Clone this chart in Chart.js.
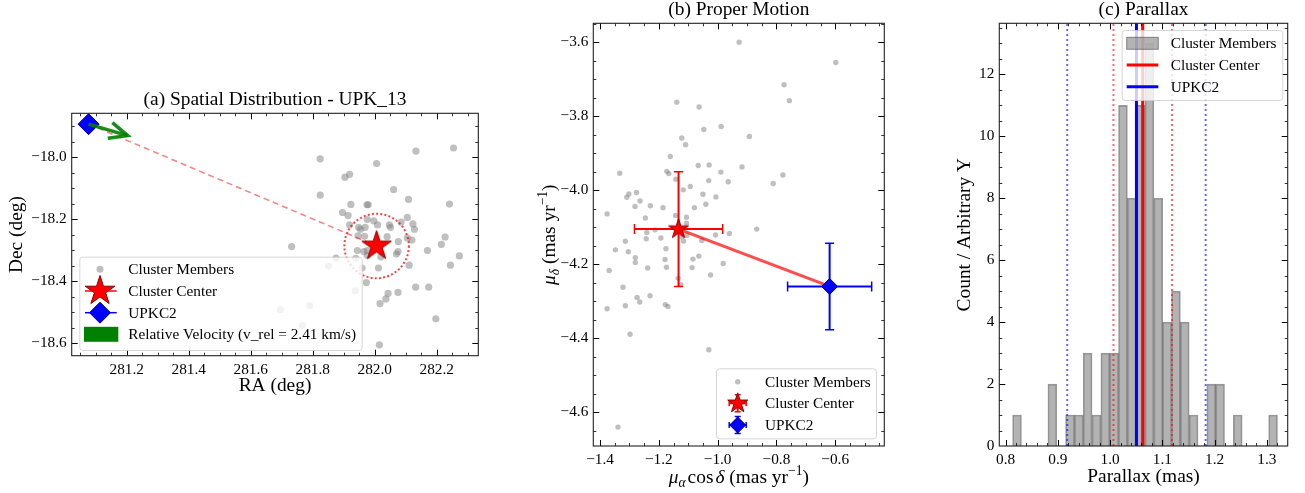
<!DOCTYPE html>
<html>
<head>
<meta charset="utf-8">
<script src="https://cdn.jsdelivr.net/npm/chart.js@4.4.1/dist/chart.umd.min.js"></script>
<style>
  html, body { margin: 0; padding: 0; background: #fff; }
  body { width: 1305px; height: 493px; position: relative; overflow: hidden; }
  canvas { position: absolute; top: 0; }
</style>
</head>
<body>
<canvas id="cA" width="510" height="493" style="left:0;width:510px;height:493px"></canvas>
<canvas id="cB" width="400" height="493" style="left:520px;width:400px;height:493px"></canvas>
<canvas id="cC" width="380" height="493" style="left:925px;width:380px;height:493px"></canvas>
<script>
// ---------------- (a) spatial distribution ----------------
const memberRA = [282.254, 282.133, 281.824, 282.006, 281.904, 281.919, 282.061, 281.824, 282.109, 282.241,
  281.923, 281.975, 281.979, 281.896, 281.914, 281.976, 281.997, 282.105, 281.919, 282.009,
  282.085, 282.123, 281.948, 281.969, 282.047, 282.051, 282.128, 281.954, 282.227, 282.105,
  282.040, 281.946, 281.967, 282.076, 282.120, 282.215, 281.732, 282.170, 281.944, 281.965,
  281.976, 282.075, 282.070, 281.976, 282.020, 282.273, 281.875, 281.939, 282.111, 282.244,
  281.851, 281.959, 282.012, 281.973, 282.132, 282.174, 281.937, 282.043, 282.075, 282.036,
  282.017, 281.790, 281.696, 282.197, 281.767, 282.015];
const memberDec = [-17.970, -17.980, -18.005, -18.020, -18.064, -18.055, -18.104, -18.122, -18.136, -18.151,
  -18.152, -18.153, -18.153, -18.178, -18.188, -18.201, -18.205, -18.194, -18.218, -18.218,
  -18.209, -18.215, -18.226, -18.226, -18.218, -18.226, -18.232, -18.232, -18.257, -18.260,
  -18.256, -18.253, -18.255, -18.272, -18.267, -18.281, -18.288, -18.301, -18.301, -18.304,
  -18.301, -18.304, -18.312, -18.317, -18.321, -18.318, -18.325, -18.326, -18.348, -18.348,
  -18.351, -18.357, -18.357, -18.404, -18.419, -18.419, -18.431, -18.439, -18.436, -18.457,
  -18.472, -18.478, -18.491, -18.521, -18.543, -18.605];
const centerRA = 282.006, centerDec = -18.286;
const upkRA = 281.077, upkDec = -17.893;
const circleRadiusDeg = 0.104;
const arrowTipRA = 281.203, arrowTipDec = -17.930;
const vRelLabel = 'Relative Velocity (v_rel = 2.41 km/s)';

// ---------------- (b) proper motion ----------------
const pmRA = [-0.927, -0.598, -0.774, -0.756, -1.139, -1.063, -1.047, -0.988, -0.892, -1.122,
  -1.109, -1.161, -1.066, -1.029, -0.917, -1.333, -1.173, -1.166, -0.989, -0.778,
  -1.142, -1.030, -0.964, -0.811, -1.093, -1.117, -1.302, -1.276, -1.309, -1.050,
  -1.006, -1.264, -1.281, -1.229, -1.186, -1.040, -1.079, -1.376, -1.246, -1.143,
  -1.106, -1.106, -1.213, -1.241, -1.243, -1.193, -1.122, -1.105, -1.116, -1.054,
  -1.007, -0.960, -0.867, -1.314, -1.348, -1.304, -1.176, -1.280, -1.280, -1.179,
  -1.084, -1.064, -0.981, -1.369, -1.238, -1.174, -1.087, -1.024, -1.134, -1.125,
  -1.322, -1.274, -1.230, -1.265, -1.314, -1.178, -1.169, -1.376, -1.298, -1.030, -1.339];
const pmDec = [-3.600, -3.655, -3.715, -3.758, -3.762, -3.775, -3.836, -3.828, -3.855, -3.859,
  -3.877, -3.909, -3.933, -3.932, -3.937, -3.954, -3.949, -3.955, -3.951, -3.959,
  -3.970, -3.974, -3.977, -3.982, -3.990, -3.999, -4.010, -4.006, -4.019, -4.011,
  -4.018, -4.029, -4.044, -4.042, -4.047, -4.038, -4.047, -4.064, -4.075, -4.068,
  -4.073, -4.089, -4.107, -4.114, -4.131, -4.129, -4.125, -4.122, -4.137, -4.136,
  -4.121, -4.117, -4.105, -4.138, -4.161, -4.166, -4.158, -4.182, -4.195, -4.187,
  -4.186, -4.178, -4.198, -4.217, -4.210, -4.208, -4.209, -4.229, -4.238, -4.255,
  -4.262, -4.290, -4.285, -4.302, -4.312, -4.309, -4.314, -4.320, -4.389, -4.431, -4.640];
const pmCenter = { x: -1.133, y: -4.105, ex: 0.150, ey: 0.155 };
const pmUpk    = { x: -0.619, y: -4.260, ex: 0.143, ey: 0.117 };

// ---------------- (c) parallax ----------------
const binCenters = [0.8219, 0.8388, 0.8557, 0.8726, 0.8895, 0.9064, 0.9233, 0.9402, 0.9571, 0.9740,
  0.9909, 1.0078, 1.0247, 1.0416, 1.0585, 1.0754, 1.0923, 1.1092, 1.1261, 1.1430,
  1.1599, 1.1768, 1.1937, 1.2106, 1.2275, 1.2444, 1.2613, 1.2782, 1.2951, 1.3120];
const binCounts = [1, 0, 0, 0, 2, 0, 1, 1, 3, 1,
  3, 3, 11, 8, 11, 13, 8, 4, 5, 4,
  1, 0, 2, 2, 0, 1, 0, 0, 0, 1];
const plxCenter = 1.0625, plxCenterSig = 0.056;
const plxUpk = 1.0505, plxUpkSig = 0.1325;
const plxTop = 13.65;

// ---------------- tick labels ----------------
const ticksAX = [281.2, 281.4, 281.6, 281.8, 282.0, 282.2];
const ticksAY = [-18.6, -18.4, -18.2, -18.0];
const ticksBX = [-1.4, -1.2, -1.0, -0.8, -0.6];
const ticksBY = [-4.6, -4.4, -4.2, -4.0, -3.8, -3.6];
const ticksCX = [0.8, 0.9, 1.0, 1.1, 1.2, 1.3];
const ticksCY = [0, 2, 4, 6, 8, 10, 12];

const SERIF = '"Liberation Serif", "Times New Roman", serif';
const H = 493;

/* ---------- helpers ---------- */
function fmt(dec) {
  return v => (v < 0 ? '\u2212' : '') + Math.abs(v).toFixed(dec);
}

function starPath(g, cx, cy, R) {
  const r = R * 0.381966;
  g.beginPath();
  for (let k = 0; k < 10; k++) {
    const rad = k % 2 === 0 ? R : r;
    const a = -Math.PI / 2 + k * Math.PI / 5;
    const px = cx + rad * Math.cos(a), py = cy + rad * Math.sin(a);
    if (k) g.lineTo(px, py); else g.moveTo(px, py);
  }
  g.closePath();
}

function drawStar(g, cx, cy, R) {
  starPath(g, cx, cy, R);
  g.fillStyle = '#ff0000';
  g.fill();
  g.lineWidth = 1;
  g.strokeStyle = '#8b0000';
  g.stroke();
}

function starImage(R) {
  const c = document.createElement('canvas');
  const s = Math.ceil(2 * R + 4);
  c.width = s; c.height = s;
  drawStar(c.getContext('2d'), s / 2, s / 2, R);
  return c;
}

function drawDiamond(g, cx, cy, r) {
  g.beginPath();
  g.moveTo(cx - r, cy); g.lineTo(cx, cy - r); g.lineTo(cx + r, cy); g.lineTo(cx, cy + r);
  g.closePath();
  g.fillStyle = '#0000ff';
  g.fill();
  g.lineWidth = 1;
  g.strokeStyle = '#00008b';
  g.stroke();
}

function hline(g, x1, x2, y, color, w) {
  g.beginPath(); g.moveTo(x1, y); g.lineTo(x2, y);
  g.strokeStyle = color; g.lineWidth = w; g.stroke();
}
function vline(g, x, y1, y2, color, w) {
  g.beginPath(); g.moveTo(x, y1); g.lineTo(x, y2);
  g.strokeStyle = color; g.lineWidth = w; g.stroke();
}

function errCross(g, cx, cy, a, color) {
  hline(g, cx - a, cx + a, cy, color, 2);
  vline(g, cx, cy - a, cy + a, color, 2);
  vline(g, cx - a, cy - 3, cy + 3, color, 1.5);
  vline(g, cx + a, cy - 3, cy + 3, color, 1.5);
  hline(g, cx - 3, cx + 3, cy - a, color, 1.5);
  hline(g, cx - 3, cx + 3, cy + a, color, 1.5);
}

// text with italic / sub / sup parts, centred on (cx, cy)
function drawRich(g, parts, size, cx, cy, rot) {
  g.save();
  g.translate(cx, cy);
  if (rot) g.rotate(rot);
  let total = 0;
  const items = parts.map(p => {
    const fs = (p.sub || p.sup) ? size * 0.7 : size;
    const font = (p.it ? 'italic ' : '') + fs + 'px ' + SERIF;
    g.font = font;
    const w = g.measureText(p.t).width;
    const dy = p.sub ? size * 0.2 : (p.sup ? -size * 0.38 : 0);
    total += w + (p.gap || 0);
    return { font, w, dy, t: p.t, gap: p.gap || 0 };
  });
  let x = -total / 2;
  g.textBaseline = 'alphabetic';
  g.textAlign = 'left';
  g.fillStyle = '#000';
  const base = size * 0.24;
  items.forEach(it => {
    g.font = it.font;
    g.fillText(it.t, x, base + it.dy);
    x += it.w + it.gap;
  });
  g.restore();
}

function drawLegend(g, lg) {
  g.save();
  const { x, y, w, h } = lg.box;
  g.beginPath();
  g.roundRect(x + 0.5, y + 0.5, w, h, 3);
  g.fillStyle = 'rgba(255,255,255,0.8)';
  g.fill();
  g.lineWidth = 1;
  g.strokeStyle = 'rgba(204,204,204,0.8)';
  g.stroke();
  g.font = '15.3px ' + SERIF;
  g.textBaseline = 'middle';
  g.textAlign = 'left';
  lg.rows.forEach(r => {
    r.handle(g, lg.hx, r.y);
    g.fillStyle = '#000';
    g.font = '15.3px ' + SERIF;
    g.fillText(r.text, lg.tx, r.y + 1);
  });
  g.restore();
}

function drawFrame(chart, cfg) {
  const g = chart.ctx;
  const a = chart.chartArea;
  const xs = chart.scales.x, ys = chart.scales.y;
  g.save();
  g.strokeStyle = '#000';
  g.lineWidth = 1;
  const minors = (min, max, step, majors) => {
    const out = [];
    for (let v = Math.ceil(min / step) * step; v <= max + 1e-9; v += step) {
      if (!majors.some(m => Math.abs(m - v) < step / 10)) out.push(v);
    }
    return out;
  };
  const tickX = (vals, len) => vals.forEach(v => {
    const p = Math.round(xs.getPixelForValue(v)) + 0.5;
    if (p < a.left || p > a.right) return;
    g.beginPath();
    g.moveTo(p, a.bottom); g.lineTo(p, a.bottom - len);
    g.moveTo(p, a.top); g.lineTo(p, a.top + len);
    g.stroke();
  });
  const tickY = (vals, len) => vals.forEach(v => {
    const p = Math.round(ys.getPixelForValue(v)) + 0.5;
    if (p < a.top || p > a.bottom) return;
    g.beginPath();
    g.moveTo(a.left, p); g.lineTo(a.left + len, p);
    g.moveTo(a.right, p); g.lineTo(a.right - len, p);
    g.stroke();
  });
  tickX(cfg.xTicks, 6);
  tickY(cfg.yTicks, 6);
  g.lineWidth = 0.8;
  tickX(minors(xs.min, xs.max, cfg.xMinor, cfg.xTicks), 3);
  tickY(minors(ys.min, ys.max, cfg.yMinor, cfg.yTicks), 3);
  g.lineWidth = 1.1;
  g.strokeStyle = '#222';
  g.strokeRect(a.left, a.top, a.right - a.left, a.bottom - a.top);
  g.restore();
}

function panelPlugin(cfg) {
  return {
    id: 'panel',
    afterDatasetsDraw(chart) {
      if (cfg.extra) cfg.extra(chart);
      drawFrame(chart, cfg);
    },
    afterDraw(chart) {
      const g = chart.ctx;
      g.save();
      g.translate(-cfg.off, 0);
      drawRich(g, [{ t: cfg.title }], 19.4, cfg.cx, cfg.titleY);
      drawRich(g, cfg.xlabel, 19.4, cfg.cx, cfg.xlabelY);
      drawRich(g, cfg.ylabel, 19.4, cfg.ylabelX, cfg.cy, -Math.PI / 2);
      drawLegend(g, cfg.legend);
      g.restore();
    }
  };
}

function baseOptions(box, xr, yr, xTicks, yTicks, fx, fy) {
  const tickFont = { family: SERIF, size: 15.3 };
  return {
    responsive: false,
    animation: false,
    events: [],
    layout: { padding: { left: 0, top: box.t, right: box.w - box.r, bottom: 0 } },
    plugins: { legend: { display: false }, tooltip: { enabled: false }, title: { display: false } },
    scales: {
      x: {
        type: 'linear', min: xr[0], max: xr[1], offset: false,
        grid: { display: false, drawTicks: false }, border: { display: false },
        afterBuildTicks: s => { s.ticks = xTicks.map(v => ({ value: v })); },
        afterFit: s => { s.height = H - box.b; },
        ticks: { autoSkip: false, maxRotation: 0, padding: 5, color: '#000', font: tickFont, callback: fx }
      },
      y: {
        type: 'linear', min: yr[0], max: yr[1],
        grid: { display: false, drawTicks: false }, border: { display: false },
        afterBuildTicks: s => { s.ticks = yTicks.map(v => ({ value: v })); },
        afterFit: s => { s.width = box.l; },
        ticks: { autoSkip: false, padding: 5, color: '#000', font: tickFont, callback: fy }
      }
    }
  };
}

/* ================= panel (a) ================= */
(function () {
  const off = 0;
  const box = { l: 71.7, r: 478.3, t: 113.3, b: 355.7, w: 510 };
  const opts = baseOptions(box, [281.0226, 282.334], [-18.640, -17.858], ticksAX, ticksAY, fmt(1), fmt(1));
  const plugin = panelPlugin({
    off, cx: 275, cy: 234.5,
    title: '(a) Spatial Distribution - UPK_13', titleY: 100.4,
    xlabel: [{ t: 'RA (deg)' }], xlabelY: 386.7,
    ylabel: [{ t: 'Dec (deg)' }], ylabelX: 17.5,
    xTicks: ticksAX, yTicks: ticksAY, xMinor: 0.05, yMinor: 0.05,
    extra(chart) {
      const g = chart.ctx, xs = chart.scales.x, ys = chart.scales.y;
      // dotted circle round the cluster centre
      const cx = xs.getPixelForValue(centerRA), cy = ys.getPixelForValue(centerDec);
      const rad = Math.abs(xs.getPixelForValue(centerRA + circleRadiusDeg) - cx);
      g.save();
      g.beginPath();
      g.arc(cx, cy, rad, 0, Math.PI * 2);
      g.setLineDash([2, 2.2]);
      g.lineWidth = 2;
      g.strokeStyle = 'rgba(255,0,0,0.75)';
      g.stroke();
      g.setLineDash([]);
      // relative velocity arrow
      const x0 = xs.getPixelForValue(upkRA), y0 = ys.getPixelForValue(upkDec);
      const x1 = xs.getPixelForValue(arrowTipRA), y1 = ys.getPixelForValue(arrowTipDec);
      const ang = Math.atan2(y1 - y0, x1 - x0);
      const L = 20, th = 24 * Math.PI / 180;
      g.strokeStyle = 'rgba(0,128,0,0.9)';
      g.lineWidth = 3.5;
      g.lineCap = 'butt';
      g.beginPath();
      g.moveTo(x0, y0); g.lineTo(x1, y1);
      g.stroke();
      g.beginPath();
      g.moveTo(x1 - L * Math.cos(ang - th), y1 - L * Math.sin(ang - th));
      g.lineTo(x1, y1);
      g.lineTo(x1 - L * Math.cos(ang + th), y1 - L * Math.sin(ang + th));
      g.stroke();
      g.restore();
    },
    legend: {
      box: { x: 79.3, y: 256.7, w: 282.4, h: 93.3 }, hx: 100, tx: 128.3,
      rows: [
        { y: 269.3, text: 'Cluster Members', handle: (g, x, y) => {
          g.beginPath(); g.arc(x, y, 3.5, 0, Math.PI * 2);
          g.fillStyle = 'rgba(128,128,128,0.5)'; g.fill(); } },
        { y: 291, text: 'Cluster Center', handle: (g, x, y) => {
          hline(g, x - 15, x + 16.7, y, '#ff0000', 1.5); drawStar(g, x, y, 15.5); } },
        { y: 312.7, text: 'UPKC2', handle: (g, x, y) => {
          hline(g, x - 15, x + 16.7, y, '#0000ff', 1.5); drawDiamond(g, x, y, 10.5); } },
        { y: 334.3, text: vRelLabel, handle: (g, x, y) => {
          g.fillStyle = '#008000'; g.fillRect(x - 16, y - 7.5, 34.3, 15); } }
      ]
    }
  });
  new Chart(document.getElementById('cA'), {
    type: 'scatter',
    data: {
      datasets: [
        { label: 'UPKC2', data: [{ x: upkRA, y: upkDec }], pointStyle: 'rectRot', pointRadius: 10.5,
          backgroundColor: '#0000ff', borderColor: '#00008b', borderWidth: 1, clip: false, order: 0 },
        { label: 'Cluster Center', data: [{ x: centerRA, y: centerDec }], pointStyle: starImage(15.5),
          pointRadius: 15.5, clip: false, order: 1 },
        { label: 'link', data: [{ x: upkRA, y: upkDec }, { x: centerRA, y: centerDec }], showLine: true,
          borderColor: 'rgba(255,0,0,0.5)', borderDash: [6, 4], borderWidth: 1.5, pointRadius: 0, order: 2 },
        { label: 'Cluster Members', data: memberRA.map((x, i) => ({ x, y: memberDec[i] })),
          pointRadius: 3.6, backgroundColor: 'rgba(128,128,128,0.5)', borderWidth: 0, order: 3 }
      ]
    },
    options: opts,
    plugins: [plugin]
  });
})();

/* ================= panel (b) ================= */
(function () {
  const off = 520;
  const box = { l: 73.3, r: 364.3, t: 23.3, b: 446, w: 400 };
  const opts = baseOptions(box, [-1.423, -0.433], [-4.691, -3.549], ticksBX, ticksBY, fmt(1), fmt(1));
  const unit = [{ t: ' (mas yr' }, { t: '\u22121', sup: true }, { t: ')' }];
  const plugin = panelPlugin({
    off, cx: 738.8, cy: 234.7,
    title: '(b) Proper Motion', titleY: 10.5,
    xlabel: [{ t: '\u03bc', it: true }, { t: '\u03b1', it: true, sub: true, gap: 2 }, { t: 'cos', gap: 2 },
             { t: '\u03b4', it: true }].concat(unit), xlabelY: 478,
    ylabel: [{ t: '\u03bc', it: true }, { t: '\u03b4', it: true, sub: true }].concat(unit), ylabelX: 550,
    xTicks: ticksBX, yTicks: ticksBY, xMinor: 0.05, yMinor: 0.05,
    legend: {
      box: { x: 716, y: 368.3, w: 160, h: 70 }, hx: 737.7, tx: 765,
      rows: [
        { y: 381.7, text: 'Cluster Members', handle: (g, x, y) => {
          g.beginPath(); g.arc(x, y, 2.7, 0, Math.PI * 2);
          g.fillStyle = 'rgba(128,128,128,0.5)'; g.fill(); } },
        { y: 403.3, text: 'Cluster Center', handle: (g, x, y) => {
          errCross(g, x, y, 8.5, '#ff0000'); drawStar(g, x, y, 10.5); } },
        { y: 425, text: 'UPKC2', handle: (g, x, y) => {
          errCross(g, x, y, 8.5, '#0000ff'); drawDiamond(g, x, y, 8); } }
      ]
    }
  });
  const errSets = (p, color) => [
    { data: [{ x: p.x - p.ex, y: p.y }, { x: p.x + p.ex, y: p.y }], showLine: true, borderColor: color,
      borderWidth: 2, pointStyle: 'line', pointRotation: 90, pointRadius: 5, pointBorderWidth: 1.5,
      pointBorderColor: color, order: 3 },
    { data: [{ x: p.x, y: p.y - p.ey }, { x: p.x, y: p.y + p.ey }], showLine: true, borderColor: color,
      borderWidth: 2, pointStyle: 'line', pointRotation: 0, pointRadius: 4.5, pointBorderWidth: 1.5,
      pointBorderColor: color, order: 3 }
  ];
  new Chart(document.getElementById('cB'), {
    type: 'scatter',
    data: {
      datasets: [
        { label: 'UPKC2', data: [{ x: pmUpk.x, y: pmUpk.y }], pointStyle: 'rectRot', pointRadius: 8,
          backgroundColor: '#0000ff', borderColor: '#00008b', borderWidth: 1, order: 0 },
        { label: 'Cluster Center', data: [{ x: pmCenter.x, y: pmCenter.y }], pointStyle: starImage(10.5),
          pointRadius: 10.5, order: 1 },
        { label: 'link', data: [{ x: pmCenter.x, y: pmCenter.y }, { x: pmUpk.x, y: pmUpk.y }], showLine: true,
          borderColor: 'rgba(255,0,0,0.7)', borderWidth: 3, pointRadius: 0, order: 2 }
      ].concat(errSets(pmCenter, '#ff0000'), errSets(pmUpk, '#0000ff'), [
        { label: 'Cluster Members', data: pmRA.map((x, i) => ({ x, y: pmDec[i] })),
          pointRadius: 2.7, backgroundColor: 'rgba(128,128,128,0.5)', borderWidth: 0, order: 4 }
      ])
    },
    options: opts,
    plugins: [plugin]
  });
})();

/* ================= panel (c) ================= */
(function () {
  const off = 925;
  const box = { l: 74.3, r: 362.7, t: 23.3, b: 446, w: 380 };
  const opts = baseOptions(box, [0.788, 1.340], [0, plxTop], ticksCX, ticksCY, fmt(1), fmt(0));
  const plugin = panelPlugin({
    off, cx: 1143.5, cy: 234.7,
    title: '(c) Parallax', titleY: 10.5,
    xlabel: [{ t: 'Parallax (mas)' }], xlabelY: 477.5,
    ylabel: [{ t: 'Count / Arbitrary Y' }], ylabelX: 965.5,
    xTicks: ticksCX, yTicks: ticksCY, xMinor: 0.02, yMinor: 0.5,
    legend: {
      box: { x: 1121.7, y: 30, w: 160.6, h: 70 }, hx: 1142.5, tx: 1170.7,
      rows: [
        { y: 43.3, text: 'Cluster Members', handle: (g, x, y) => {
          g.fillStyle = 'rgba(128,128,128,0.6)'; g.fillRect(x - 15.8, y - 6, 31.6, 12);
          g.strokeStyle = 'rgba(0,0,0,0.4)'; g.lineWidth = 1; g.strokeRect(x - 15.8, y - 6, 31.6, 12); } },
        { y: 65, text: 'Cluster Center', handle: (g, x, y) => hline(g, x - 15.8, x + 15.8, y, '#ff0000', 3) },
        { y: 86.7, text: 'UPKC2', handle: (g, x, y) => hline(g, x - 15.8, x + 15.8, y, '#0000ff', 3) }
      ]
    }
  });
  const vl = (x, color, w, dash, order) => ({
    type: 'line', data: [{ x, y: 0 }, { x, y: plxTop }], borderColor: color, borderWidth: w,
    borderDash: dash, pointRadius: 0, order
  });
  new Chart(document.getElementById('cC'), {
    type: 'bar',
    data: {
      datasets: [
        vl(plxUpk, '#0000ff', 3, [], 0),
        vl(plxCenter, '#ff0000', 3, [], 0),
        vl(plxCenter - plxCenterSig, 'rgba(255,0,0,0.6)', 2, [2, 3], 1),
        vl(plxCenter + plxCenterSig, 'rgba(255,0,0,0.6)', 2, [2, 3], 1),
        vl(plxUpk - plxUpkSig, 'rgba(0,0,255,0.6)', 2, [2, 3], 1),
        vl(plxUpk + plxUpkSig, 'rgba(0,0,255,0.6)', 2, [2, 3], 1),
        { type: 'bar', label: 'Cluster Members', data: binCenters.map((x, i) => ({ x, y: binCounts[i] })),
          backgroundColor: 'rgba(128,128,128,0.6)', borderColor: 'rgba(0,0,0,0.4)',
          borderWidth: c => (c.raw && c.raw.y > 0 ? 1 : 0), borderSkipped: 'start',
          barPercentage: 1, categoryPercentage: 1, grouped: false, order: 2 }
      ]
    },
    options: opts,
    plugins: [plugin]
  });
})();
</script>
</body>
</html>
